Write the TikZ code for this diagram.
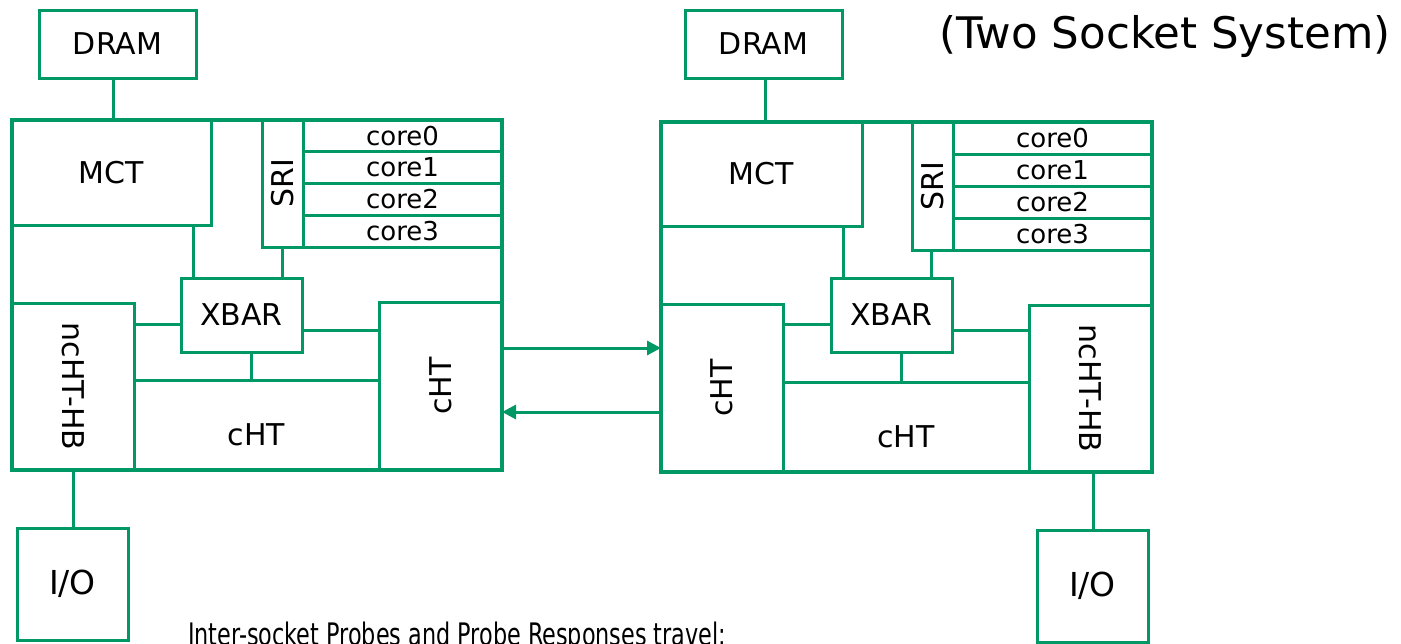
\documentclass[tikz,border=0pt]{standalone}
\usepackage{fontspec}
\setmainfont{DejaVu Sans}
\usetikzlibrary{arrows.meta,calc}
\definecolor{grn}{RGB}{0,153,102}
\begin{document}
\begin{tikzpicture}[x=1pt,y=-1pt,
  box/.style={draw=grn,line width=3pt,inner sep=0pt,outer sep=0pt,font=\fontsize{30}{36}\selectfont},
  outerbox/.style={box,line width=3.5pt},
  corebox/.style={box,minimum width=199pt,font=\fontsize{26}{31}\selectfont},
  iobox/.style={box,minimum width=111pt,minimum height=112pt,font=\fontsize{33}{40}\selectfont},
  wire/.style={draw=grn,line width=3pt},
  arr/.style={wire,-{Triangle[length=14pt,width=14pt]}},
  lowlbl/.style={label={[font=\fontsize{30}{36}\selectfont,yshift=-10pt]center:#1}}]
\useasboundingbox (0,0) rectangle (1401,643);

% ---------------- left socket ----------------
\node[box,minimum width=157pt,minimum height=68pt] (dramL) at (117.5,44) {DRAM};
\node[outerbox,minimum width=490pt,minimum height=350pt] (sockL) at (257,295) {};
\node[box,minimum width=199pt,minimum height=105pt] (mctL) at (111.5,172.5) {MCT};
\node[box,minimum width=41pt,minimum height=127pt] (sriL) at (282.5,183.5) {\rotatebox{90}{SRI}};
\node[corebox,minimum height=31.75pt] (c0L) at (402.5,135.875) {core0};
\node[corebox,minimum height=31.75pt] (c1L) at (402.5,167.625) {core1};
\node[corebox,minimum height=31.75pt] (c2L) at (402.5,199.375) {core2};
\node[corebox,minimum height=31.75pt] (c3L) at (402.5,231.125) {core3};
\node[box,minimum width=121pt,minimum height=74pt] (xbarL) at (241.5,315) {XBAR};
\node[box,minimum width=122pt,minimum height=167pt] (nchtL) at (73,386.5) {\rotatebox{-90}{ncHT-HB}};
\node[box,minimum width=123pt,minimum height=168pt] (chtrL) at (440.5,386) {\rotatebox{90}{cHT}};
\node[box,minimum width=245pt,minimum height=90pt,lowlbl=cHT] (chtbL) at (256.5,425) {};
\node[iobox] (ioL) at (72.5,584) {I/O};

\draw[wire] ([xshift=-4.5pt]dramL.south) -- ([xshift=-4.5pt]dramL.south |- sockL.north);
\draw[wire] ([xshift=12pt]xbarL.north west) -- ([xshift=12pt]xbarL.north west |- mctL.south);
\draw[wire] (sriL.south) -- (sriL.south |- xbarL.north);
\draw[wire] ([yshift=-9pt]xbarL.west) -- ([yshift=-9pt]xbarL.west -| nchtL.east);
\draw[wire] ([yshift=-15pt]xbarL.east) -- ([yshift=-15pt]xbarL.east -| chtrL.west);
\draw[wire] ([xshift=10pt]xbarL.south) -- ([xshift=10pt]xbarL.south |- chtbL.north);
\draw[wire] (nchtL.south) -- (nchtL.south |- ioL.north);

% ---------------- right socket ----------------
\node[box,minimum width=157pt,minimum height=68pt] (dramR) at (763.5,44) {DRAM};
\node[outerbox,minimum width=491pt,minimum height=350pt] (sockR) at (906.5,297) {};
\node[box,minimum width=201pt,minimum height=104pt] (mctR) at (761.5,174) {MCT};
\node[box,minimum width=41pt,minimum height=128pt] (sriR) at (932.5,186) {\rotatebox{90}{SRI}};
\node[corebox,minimum height=32pt] (c0R) at (1052.5,138) {core0};
\node[corebox,minimum height=32pt] (c1R) at (1052.5,170) {core1};
\node[corebox,minimum height=32pt] (c2R) at (1052.5,202) {core2};
\node[corebox,minimum height=32pt] (c3R) at (1052.5,234) {core3};
\node[box,minimum width=121pt,minimum height=74pt] (xbarR) at (891.5,315) {XBAR};
\node[box,minimum width=122pt,minimum height=168pt] (chtlR) at (722,388) {\rotatebox{90}{cHT}};
\node[box,minimum width=246pt,minimum height=90pt,lowlbl=cHT] (chtbR) at (906,427) {};
\node[box,minimum width=123pt,minimum height=167pt] (nchtR) at (1090.5,388.5) {\rotatebox{-90}{ncHT-HB}};
\node[iobox] (ioR) at (1092.5,586) {I/O};

\draw[wire] ([xshift=1.5pt]dramR.south) -- ([xshift=1.5pt]dramR.south |- sockR.north);
\draw[wire] ([xshift=12pt]xbarR.north west) -- ([xshift=12pt]xbarR.north west |- mctR.south);
\draw[wire] ([xshift=-1pt]sriR.south) -- ([xshift=-1pt]sriR.south |- xbarR.north);
\draw[wire] ([yshift=-9pt]xbarR.west) -- ([yshift=-9pt]xbarR.west -| chtlR.east);
\draw[wire] ([yshift=-15pt]xbarR.east) -- ([yshift=-15pt]xbarR.east -| nchtR.west);
\draw[wire] ([xshift=9.5pt]xbarR.south) -- ([xshift=9.5pt]xbarR.south |- chtbR.north);
\draw[wire] ([xshift=2.5pt]nchtR.south) -- ([xshift=2.5pt]nchtR.south |- ioR.north);

% ---------------- inter-socket links ----------------
\draw[arr] ([yshift=38pt]chtrL.east) -- ([yshift=38pt]chtrL.east -| chtlR.west);
\draw[arr] ([yshift=-26pt]chtrL.east -| chtlR.west) -- ([yshift=-26pt]chtrL.east);

% ---------------- texts ----------------
\node[font=\fontsize{43.5}{52}\selectfont,anchor=base,inner sep=0pt] (title) at (1165,48) {(Two Socket System)};
\node[font=\fontsize{31}{37}\selectfont,anchor=base west,inner sep=0pt] (note) at (188,645) {\scalebox{0.72}[1]{Inter-socket Probes and Probe Responses travel:}};
\end{tikzpicture}
\end{document}
